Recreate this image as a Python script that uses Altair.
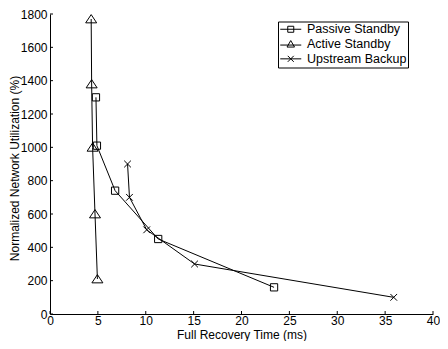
import altair as alt
import pandas as pd

# ---- data ----
series_names = ["Passive Standby", "Active Standby", "Upstream Backup"]
passive_x = [4.8, 4.9, 6.8, 11.3, 23.4]
passive_y = [1300, 1010, 740, 450, 160]
active_x = [4.3, 4.35, 4.45, 4.7, 4.95]
active_y = [1770, 1380, 1000, 600, 210]
upstream_x = [8.1, 8.3, 10.1, 15.1, 35.9]
upstream_y = [900, 700, 505, 300, 100]
x_ticks = [0, 5, 10, 15, 20, 25, 30, 35, 40]
y_ticks = [0, 200, 400, 600, 800, 1000, 1200, 1400, 1600, 1800]

rows = []
for name, xs_, ys_ in zip(series_names, [passive_x, active_x, upstream_x],
                          [passive_y, active_y, upstream_y]):
    for i, (xv, yv) in enumerate(zip(xs_, ys_)):
        rows.append({"series": name, "idx": i, "x": xv, "y": yv})
df = pd.DataFrame(rows)
xt = pd.DataFrame({"x": x_ticks})
yt = pd.DataFrame({"y": y_ticks})

W, H = 383, 300
FONT = "Liberation Sans"

xscale = alt.Scale(domain=[0, 40], nice=False, zero=False)
yscale = alt.Scale(domain=[0, 1800], nice=False)

x_enc = alt.X("x:Q", scale=xscale,
              axis=alt.Axis(title="Full Recovery Time (ms)", values=x_ticks,
                            format="d", labelPadding=1.5,
                            titleY=24.5, titleBaseline="alphabetic"))
y_enc = alt.Y("y:Q", scale=yscale,
              axis=alt.Axis(title="Normalized Network Utilization (%)",
                            values=y_ticks, format="d", labelPadding=3,
                            titleX=-36, titleY=154, titleBaseline="middle"))

# marker shapes (plot)
SQ = "M-0.66,-0.66H0.66V0.66H-0.66Z"
TRI = "M0,-0.8L1,0.7L-1,0.7Z"
CRS = "M-0.61,-0.61L0.61,0.61M0.61,-0.61L-0.61,0.61"
# legend shapes (line + marker)
L_SQ = "M-2.1,0H2.1M-0.6,-0.6H0.6V0.6H-0.6Z"
L_TRI = "M-2.1,0.2H2.1M0,-0.7L0.75,0.6L-0.75,0.6Z"
L_CRS = "M-2.1,0H2.1M-0.6,-0.6L0.6,0.6M0.6,-0.6L-0.6,0.6"

base = alt.Chart(df)

lines = base.mark_line(color="black", strokeWidth=1).encode(
    x=x_enc, y=y_enc, detail="series:N", order=alt.Order("idx:Q"))

points = base.mark_point(filled=False, size=121, strokeWidth=1,
                         color="black", opacity=1).encode(
    x=x_enc, y=y_enc,
    shape=alt.Shape("series:N",
                    scale=alt.Scale(domain=series_names, range=[SQ, TRI, CRS]),
                    legend=None))

legend_layer = base.transform_filter("false").mark_point(
    filled=False, size=100, strokeWidth=1, color="black", opacity=1).encode(
    x=x_enc, y=y_enc,
    shape=alt.Shape("series:N",
                    scale=alt.Scale(domain=series_names,
                                    range=[L_SQ, L_TRI, L_CRS]),
                    legend=alt.Legend(title=None, orient="none",
                                      legendX=228, legendY=7.5, padding=1.5,
                                      symbolSize=100, symbolOffset=5,
                                      labelOffset=10,
                                      symbolStrokeColor="black",
                                      symbolFillColor="transparent",
                                      symbolStrokeWidth=1,
                                      strokeColor="black", fillColor="white",
                                      labelFont=FONT, labelFontSize=12.5,
                                      labelColor="black", rowPadding=1.8)))

xtick_layer = alt.Chart(xt).mark_rule(color="black", strokeWidth=1).encode(
    x=x_enc, y=alt.value(H), y2=alt.value(H - 3))
ytick_layer = alt.Chart(yt).mark_rule(color="black", strokeWidth=1).encode(
    y=y_enc, x=alt.value(0), x2=alt.value(3))

chart = alt.layer(xtick_layer, ytick_layer, lines, points, legend_layer).resolve_scale(
    shape="independent"
).properties(
    width=W, height=H,
    autosize="none",
    padding={"left": 42, "top": 6, "right": 7, "bottom": 27},
    background="white",
).configure_view(stroke=None).configure_axis(
    grid=False, ticks=False, tickSize=0, labelFlush=False,
    domainColor="black", domainWidth=1,
    labelFont=FONT, labelFontSize=12, labelColor="black",
    titleFont=FONT, titleFontSize=12, titleFontWeight="normal",
    titleColor="black",
)

chart.save("out.html", embed_options={"renderer": "svg", "actions": False})
